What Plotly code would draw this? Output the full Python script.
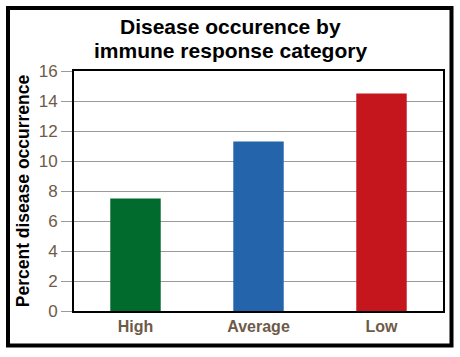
import plotly.graph_objects as go

categories = ["High", "Average", "Low"]
values = [7.5, 11.3, 14.5]
colors = ["#006b2d", "#2364aa", "#c4161c"]
y_ticks = [0, 2, 4, 6, 8, 10, 12, 14, 16]
title_lines = ["Disease occurence by", "immune response category"]

W, H = 460, 357
L, R, T, B = 74, 17, 71, 46
pw, ph = W - L - R, H - T - B

def px(x):
    return (x - L) / pw

def py(y):
    return (H - B - y) / ph

label_color = "#6e5a48"
font = "Liberation Sans, Arial, sans-serif"

fig = go.Figure(go.Bar(x=categories, y=values, marker=dict(color=colors, line=dict(width=0)), width=0.41))

fig.update_layout(
    width=W, height=H,
    margin=dict(l=L, r=R, t=T, b=B),
    paper_bgcolor="white", plot_bgcolor="white",
    showlegend=False,
    font=dict(family=font),
    annotations=[
        dict(text="<b>%s</b>" % line,
             xref="paper", yref="paper", x=px(230), y=py(yc),
             xanchor="center", yanchor="middle", showarrow=False,
             font=dict(size=21, color="black", family=font))
        for line, yc in zip(title_lines, [26, 50])
    ],
    shapes=[
        dict(type="rect", xref="paper", yref="paper",
             x0=px(8), x1=px(451.5), y0=py(345.5), y1=py(8),
             line=dict(color="black", width=4), layer="above"),
    ],
)

fig.update_xaxes(
    showline=True, linecolor="black", linewidth=2, mirror=True,
    showgrid=False, ticks="",
    tickfont=dict(size=16, color=label_color, family=font, weight="bold"),
    automargin=False,
)
fig.update_yaxes(
    range=[0, 16], tickvals=y_ticks,
    showline=True, linecolor="black", linewidth=2, mirror=True,
    showgrid=True, gridcolor="#9a9a9a", gridwidth=1,
    ticks="outside", ticklen=11, tickcolor="#9a9a9a", tickwidth=1,
    tickfont=dict(size=17, color=label_color, family=font),
    title=dict(text="<b>Percent disease occurrence</b>", standoff=5,
               font=dict(size=17.5, color="black", family=font)),
    zeroline=False, automargin=False,
)

fig.write_html("out.html", config={"displayModeBar": False},
               post_script="document.body.style.margin='0';document.body.style.padding='0';")
